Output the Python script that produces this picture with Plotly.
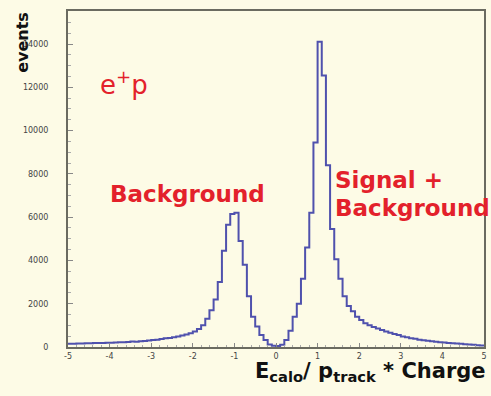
import plotly.graph_objects as go

# bin left edges, width 0.1, from -5.0 to 4.9
bin_left_edges = [round(-5.0 + 0.1 * i, 1) for i in range(100)]
events = [
    # -5.0 .. -4.1
    150, 150, 160, 160, 170, 170, 180, 190, 190, 200,
    # -4.0 .. -3.1
    200, 210, 220, 220, 230, 250, 240, 270, 280, 300,
    # -3.0 .. -2.1
    320, 340, 370, 400, 420, 450, 490, 530, 580, 640,
    # -2.0 .. -1.1
    720, 830, 1000, 1300, 1700, 2200, 3000, 4450, 5650, 6150,
    # -1.0 .. -0.1
    6200, 4900, 3800, 2350, 1400, 950, 560, 320, 120, 60,
    # 0.0 .. 0.9
    50, 100, 320, 750, 1400, 2000, 3150, 4600, 6200, 9450,
    # 1.0 .. 1.9
    14100, 12550, 8400, 5450, 4050, 3150, 2350, 1900, 1650, 1400,
    # 2.0 .. 2.9
    1250, 1100, 1000, 920, 850, 780, 720, 660, 600, 550,
    # 3.0 .. 3.9
    480, 450, 410, 380, 340, 310, 290, 260, 240, 225,
    # 4.0 .. 4.9
    205, 190, 175, 160, 145, 130, 115, 100, 85, 70,
]
x_ticks = [-5, -4, -3, -2, -1, 0, 1, 2, 3, 4, 5]
y_ticks = [0, 2000, 4000, 6000, 8000, 10000, 12000, 14000]

xs = bin_left_edges + [5.0]
ys = events + [events[-1]]

BG = "#fdfbe6"
RED = "#e3212b"
W, H = 491, 396
ML, MR, MT, MB = 68, 4, 11, 49

fig = go.Figure()
fig.add_trace(go.Scatter(
    x=xs, y=ys, mode="lines", line=dict(color="#4f51ad", width=2, shape="hv"),
    hoverinfo="skip", showlegend=False,
))

fig.update_layout(
    width=W, height=H,
    margin=dict(l=ML, r=MR, t=MT, b=MB),
    paper_bgcolor=BG, plot_bgcolor=BG,
    font=dict(family="DejaVu Sans", color="#222"),
    xaxis=dict(
        range=[-5, 5], tickvals=x_ticks, ticktext=[str(v) for v in x_ticks],
        showgrid=False, zeroline=False, ticks="inside", ticklen=4, tickcolor="#888",
        tickfont=dict(size=8, color="#444"), ticklabelstandoff=0,
        showline=True, linecolor="#6b6b60", linewidth=2, mirror=True,
        minor=dict(ticks="inside", ticklen=2, tickcolor="#aaa", dtick=0.2, showgrid=False),
    ),
    yaxis=dict(
        range=[0, 15525], tickvals=y_ticks, ticktext=[str(v) for v in y_ticks],
        showgrid=False, zeroline=False, ticks="inside", ticklen=5, tickcolor="#888",
        tickfont=dict(size=8, color="#444"), ticklabelstandoff=16,
        showline=True, linecolor="#6b6b60", linewidth=2, mirror=True,
        minor=dict(ticks="inside", ticklen=3, tickcolor="#aaa", dtick=500, showgrid=False),
    ),
)

ann = [
    dict(text="<b>events</b>", x=22, y=10, textangle=-90,
         font=dict(size=16, color="#111", family="DejaVu Sans"), xanchor="center", yanchor="top"),
    dict(text="e<sup>+</sup>p", x=98, y=64, font=dict(size=26, color=RED, family="DejaVu Sans"),
         xanchor="left", yanchor="top"),
    dict(text="<b>Background</b>", x=108, y=179, font=dict(size=23, color=RED, family="DejaVu Sans"),
         xanchor="left", yanchor="top"),
    dict(text="<b>Signal +</b>", x=335, y=165, font=dict(size=23, color=RED, family="DejaVu Sans"),
         xanchor="left", yanchor="top"),
    dict(text="<b>Background</b>", x=335, y=193, font=dict(size=23, color=RED, family="DejaVu Sans"),
         xanchor="left", yanchor="top"),
    dict(text="<b>E<sub>calo</sub>/ p<sub>track</sub> * Charge</b>", x=491, y=357,
         font=dict(size=21, color="#111", family="DejaVu Sans"), xanchor="right", yanchor="top"),
]
for a in ann:
    a.update(xref="paper", yref="paper", showarrow=False)
    px, py = a["x"], a["y"]
    a["x"] = (px - ML) / (W - ML - MR)
    a["y"] = 1 - (py - MT) / (H - MT - MB)
fig.update_layout(annotations=ann)

fig.write_html(
    "out.html",
    config={"displayModeBar": False},
    post_script="document.body.style.margin='0';document.body.style.background='%s';" % BG,
)
